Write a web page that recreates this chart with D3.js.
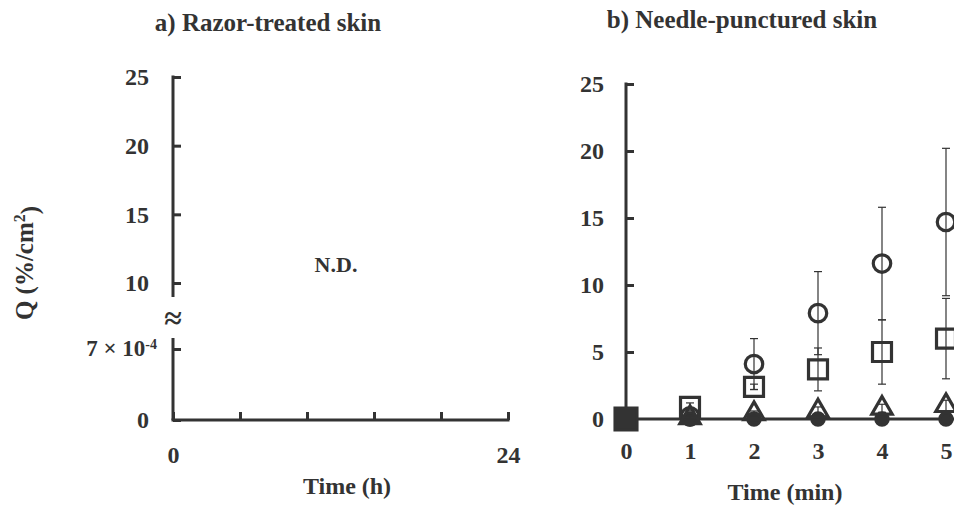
<!DOCTYPE html>
<html>
<head>
<meta charset="utf-8">
<script src="https://cdn.jsdelivr.net/npm/d3@7"></script>
<style>
  body { margin: 0; background: #fff; }
  svg { display: block; }
  text { font-family: 'Liberation Serif', 'Times New Roman', serif; font-weight: bold; fill: #333; }
  .axis text { font-size: 24px; }
  .axis line, .axis path { stroke: #333; stroke-width: 3; }
</style>
</head>
<body>
<script>
// --- data ---
const timesMin = [0, 1, 2, 3, 4, 5];
const circleMean = [0, 0.2, 4.1, 7.9, 11.6, 14.7];
const circleSd = [0, 0, 1.9, 3.1, 4.2, 5.5];
const squareMean = [0, 0.9, 2.4, 3.7, 5.0, 6.0];
const squareSd = [0, 0.3, 0.2, 1.6, 2.4, 3.0];
const triangleMean = [0, 0.1, 0.4, 0.6, 0.8, 1.0];
const triangleSd = [0, 0.1, 0.2, 0.3, 0.3, 0.4];
const controlMean = [0, 0, 0, 0, 0, 0];
const leftYTicks = [10, 15, 20, 25];
const rightYTicks = [0, 5, 10, 15, 20, 25];
const leftXTicks = [0, 4.8, 9.6, 14.4, 19.2, 24];

const width = 954;
const height = 510;
const ink = '#333';

const svg = d3.select('body').append('svg').attr('width', width).attr('height', height);

// ---------- a) Razor-treated skin ----------
const xL = d3.scaleLinear().domain([0, 24]).range([173, 508]);
const yUp = d3.scaleLinear().domain([10, 25]).range([283, 77]);
const yLow = d3.scaleLinear().domain([0, 7e-4]).range([420, 349]);
const breakTop = 297;
const breakBottom = 338;

svg.append('text').attr('x', 268).attr('y', 31).attr('text-anchor', 'middle')
  .style('font-size', '25px').text('a) Razor-treated skin');

const gUp = svg.append('g').attr('class', 'axis').attr('transform', `translate(${xL(0)},0)`)
  .call(d3.axisLeft(yUp).tickValues(leftYTicks).tickSizeInner(-8).tickSizeOuter(0).tickPadding(24));
gUp.select('.domain').remove();

const gLow = svg.append('g').attr('class', 'axis').attr('transform', `translate(${xL(0)},0)`)
  .call(d3.axisLeft(yLow).tickValues([0, 7e-4]).tickSizeInner(-8).tickSizeOuter(0).tickPadding(24)
    .tickFormat(d => d === 0 ? '0' : ''));
gLow.select('.domain').remove();

// 7 x 10^-4 label
const sci = svg.append('text').attr('x', xL(0) - 16).attr('y', yLow(7e-4)).attr('dy', '0.32em')
  .attr('text-anchor', 'end').style('font-size', '23px');
sci.append('tspan').text('7 \u00d7 10');
sci.append('tspan').attr('dy', '-0.55em').style('font-size', '14px').text('-4');

// broken y axis line
svg.append('line').attr('x1', xL(0)).attr('x2', xL(0)).attr('y1', yUp(25) - 1.5).attr('y2', breakTop)
  .attr('stroke', ink).attr('stroke-width', 3);
svg.append('line').attr('x1', xL(0)).attr('x2', xL(0)).attr('y1', breakBottom).attr('y2', yLow(0))
  .attr('stroke', ink).attr('stroke-width', 3);
svg.append('text').attr('x', xL(0)).attr('y', (breakTop + breakBottom) / 2).attr('dy', '0.35em')
  .attr('text-anchor', 'middle').style('font-size', '32px').text('\u2248');

const gxL = svg.append('g').attr('class', 'axis').attr('transform', `translate(0,${yLow(0)})`)
  .call(d3.axisBottom(xL).tickValues(leftXTicks).tickSizeInner(-8).tickSizeOuter(0).tickPadding(26)
    .tickFormat(d => (d === 0 || d === 24) ? d : ''));
gxL.select('.domain').attr('d', `M${xL(0) - 1.5},0H${xL(24) + 1.5}`);

svg.append('text').attr('x', 336).attr('y', 272).attr('text-anchor', 'middle')
  .style('font-size', '22px').text('N.D.');
svg.append('text').attr('x', 347).attr('y', 494).attr('text-anchor', 'middle')
  .style('font-size', '24px').text('Time (h)');

const ylab = svg.append('text').attr('transform', 'translate(33,263)rotate(-90)')
  .attr('text-anchor', 'middle').style('font-size', '25px');
ylab.append('tspan').text('Q (%/cm');
ylab.append('tspan').attr('dy', '-0.5em').style('font-size', '16px').text('2');
ylab.append('tspan').attr('dy', '0.5em').text(')');

// ---------- b) Needle-punctured skin ----------
const xR = d3.scaleLinear().domain([0, 5]).range([626, 946]);
const yR = d3.scaleLinear().domain([0, 25]).range([419, 84]);

svg.append('text').attr('x', 742).attr('y', 28).attr('text-anchor', 'middle')
  .style('font-size', '25px').text('b) Needle-punctured skin');

const gyR = svg.append('g').attr('class', 'axis').attr('transform', `translate(${xR(0)},0)`)
  .call(d3.axisLeft(yR).tickValues(rightYTicks).tickSizeInner(-8).tickSizeOuter(0).tickPadding(22));
gyR.select('.domain').attr('d', `M0,${yR(25) - 1.5}V${yR(0)}`);

const gxR = svg.append('g').attr('class', 'axis').attr('transform', `translate(0,${yR(0)})`)
  .call(d3.axisBottom(xR).tickValues(timesMin).tickSize(0).tickPadding(23).tickFormat(d3.format('d')));
gxR.select('.domain').attr('d', `M${xR(0)},0H${width + 10}`);

svg.append('text').attr('x', 785).attr('y', 500).attr('text-anchor', 'middle')
  .style('font-size', '24px').text('Time (min)');

const series = [
  { mean: controlMean, sd: controlMean, type: d3.symbolCircle, size: 120, fill: ink, from: 1 },
  { mean: controlMean, sd: controlMean, type: d3.symbolSquare, size: 480, fill: ink, from: 0, to: 0 },
  { mean: circleMean, sd: circleSd, type: d3.symbolCircle, size: 240, fill: 'none', from: 1 },
  { mean: squareMean, sd: squareSd, type: d3.symbolSquare, size: 360, fill: 'none', from: 1 },
  { mean: triangleMean, sd: triangleSd, type: d3.symbolTriangle, size: 180, fill: 'none', from: 1 }
];

const plot = svg.append('g');
series.forEach((s) => {
  const pts = timesMin.map((t, i) => ({ t, m: s.mean[i], e: s.sd[i] }))
    .filter(p => p.t >= s.from && (s.to === undefined || p.t <= s.to));
  const eb = plot.append('g').selectAll('g').data(pts.filter(p => p.e > 0)).enter().append('g')
    .attr('stroke', ink).attr('stroke-width', 1.2);
  eb.append('line').attr('x1', p => xR(p.t)).attr('x2', p => xR(p.t))
    .attr('y1', p => yR(p.m + p.e)).attr('y2', p => yR(Math.max(p.m - p.e, 0)));
  eb.append('line').attr('x1', p => xR(p.t) - 4).attr('x2', p => xR(p.t) + 4)
    .attr('y1', p => yR(p.m + p.e)).attr('y2', p => yR(p.m + p.e));
  eb.append('line').attr('x1', p => xR(p.t) - 4).attr('x2', p => xR(p.t) + 4)
    .attr('y1', p => yR(Math.max(p.m - p.e, 0))).attr('y2', p => yR(Math.max(p.m - p.e, 0)));
  plot.append('g').selectAll('path').data(pts).enter().append('path')
    .attr('d', d3.symbol().type(s.type).size(s.size))
    .attr('transform', p => `translate(${xR(p.t)},${yR(p.m)})`)
    .attr('fill', s.fill)
    .attr('stroke', ink)
    .attr('stroke-width', 3.2);
});
</script>
</body>
</html>
